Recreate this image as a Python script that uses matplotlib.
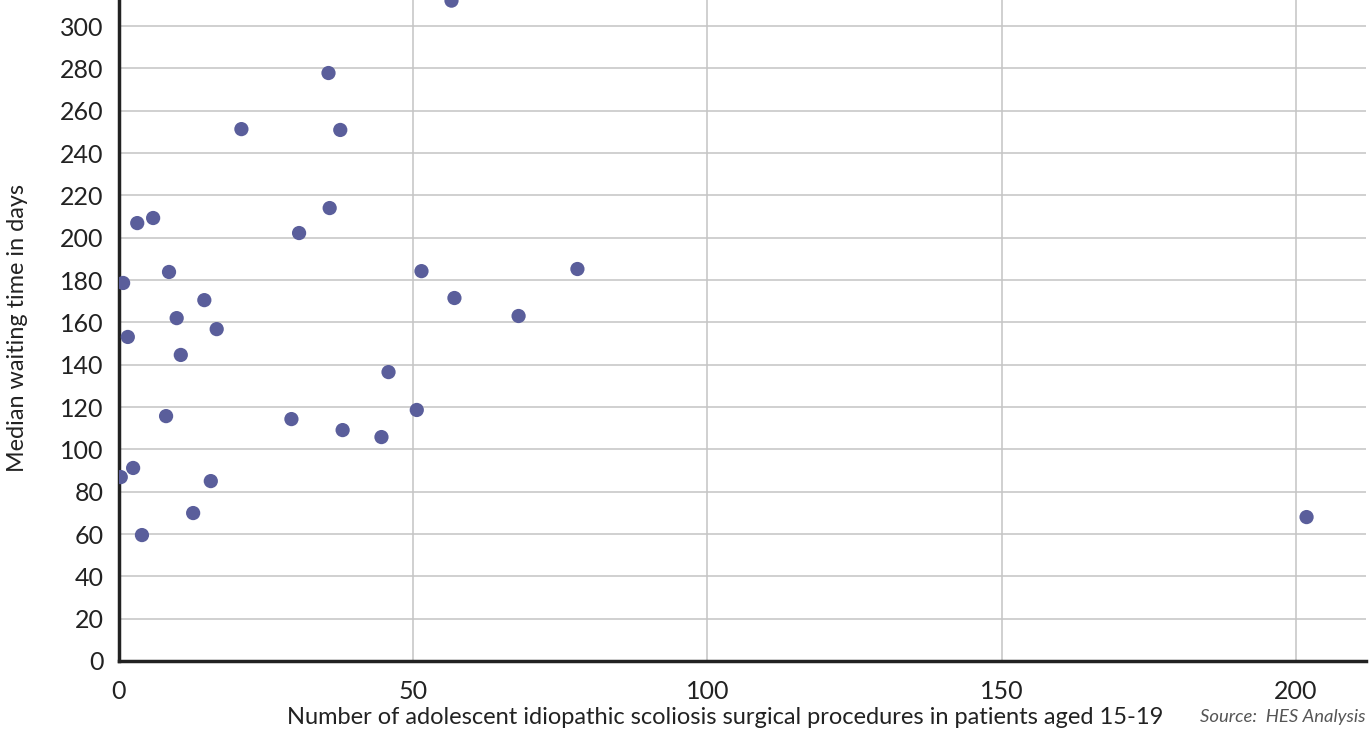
import matplotlib
matplotlib.use('Agg')
import matplotlib.pyplot as plt

# number of procedures (x) and median waiting time in days (y)
procedures = [56.5, 35.6, 20.8, 37.6, 35.8, 3.1, 5.8, 30.6, 0.7, 8.5, 51.4,
              77.9, 14.5, 57.0, 9.8, 67.9, 16.6, 1.5, 10.5, 45.8, 8.0, 29.3,
              50.6, 38.0, 44.6, 0.3, 2.4, 15.6, 12.6, 3.9, 201.8]
waiting_days = [312, 277.8, 251.3, 250.9, 214.0, 206.9, 209.3, 202.2, 178.6,
                183.8, 184.2, 185.2, 170.5, 171.5, 162.0, 163.0, 156.8, 153.1,
                144.6, 136.5, 115.7, 114.3, 118.6, 109.1, 105.8, 86.9, 91.2,
                85.0, 69.9, 59.5, 68.0]
x_ticks = [0, 50, 100, 150, 200]
y_ticks = list(range(0, 301, 20))

plt.rcParams['font.family'] = ['Lato', 'DejaVu Sans']

fig = plt.figure(figsize=(13.7, 7.29), dpi=100)
ax = fig.add_axes([119 / 1370, 68 / 729, 1247 / 1370, 661 / 729])

ax.scatter(procedures, waiting_days, s=105, color='#5a5e9b', zorder=3,
           edgecolors='none')

ax.set_xlim(0, 211.9)
ax.set_ylim(0, 312.3)
ax.set_xticks(x_ticks)
ax.set_yticks(y_ticks)
ax.grid(True, color='#c4c4c4', linewidth=1.1)
ax.set_axisbelow(True)

for side in ['top', 'right']:
    ax.spines[side].set_visible(False)
for side in ['left', 'bottom']:
    ax.spines[side].set_linewidth(2.5)
    ax.spines[side].set_color('#222222')

ax.tick_params(axis='both', length=0, labelsize=18, colors='#222222')
ax.tick_params(axis='x', pad=14)
ax.tick_params(axis='y', pad=11)

fig.text(18 / 1370, 0.55, 'Median waiting time in days', rotation=90,
         ha='center', va='center', fontsize=16.8, color='#222222')
fig.text(725 / 1370, 12 / 729, 'Number of adolescent idiopathic scoliosis '
         'surgical procedures in patients aged 15-19', ha='center',
         va='center', fontsize=17, color='#222222')
fig.text(1366 / 1370, 12 / 729, 'Source:  HES Analysis', ha='right',
         va='center', fontsize=13.3, style='italic', color='#555555')

fig.savefig('out.png', dpi=100)
